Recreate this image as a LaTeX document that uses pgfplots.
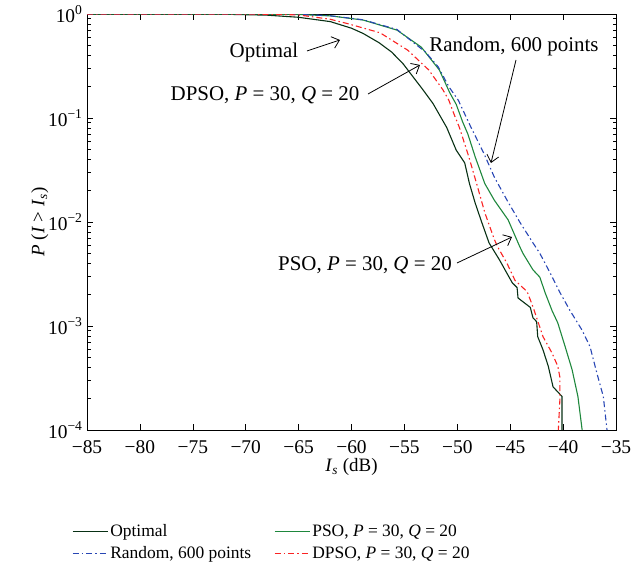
\documentclass[border=0pt]{standalone}
\usepackage{pgfplots}
\pgfplotsset{compat=1.18}
\usepackage{fontspec}
\setmainfont{Liberation Serif}
\usetikzlibrary{arrows.meta}
\definecolor{optc}{RGB}{8,48,20}
\definecolor{psoc}{RGB}{30,135,60}
\definecolor{dpsoc}{RGB}{250,35,35}
\definecolor{randc}{RGB}{40,70,180}
\begin{document}
\begin{tikzpicture}
\path[use as bounding box] (0,0) rectangle (634bp,571bp);
\begin{axis}[
  at={(87bp,141bp)}, anchor=south west, scale only axis,
  width=529bp, height=416bp,
  xmin=-85, xmax=-35, ymin=1e-4, ymax=1, ymode=log,
  xtick={-85,-80,-75,-70,-65,-60,-55,-50,-45,-40,-35},
  xticklabels={−85,−80,−75,−70,−65,−60,−55,−50,−45,−40,−35},
  ytick={1e-4,1e-3,1e-2,1e-1,1},
  yticklabels={10\textsuperscript{−4},10\textsuperscript{−3},10\textsuperscript{−2},10\textsuperscript{−1},10\textsuperscript{0}},
  tick align=inside, major tick length=6bp, minor tick length=3.5bp,
  axis line style={line width=0.8bp},
  every tick/.style={black, line width=0.6bp},
  tick label style={font=\fontsize{19.5}{22}\selectfont},
  xticklabel style={yshift=-7bp},
  yticklabel style={xshift=-1bp},
  xlabel={\textit{I}\textsubscript{\textit{s}} (dB)},
  ylabel={\textit{P} (\textit{I} > \textit{I}\textsubscript{\textit{s}})},
  label style={font=\fontsize{19}{22}\selectfont},
  xlabel style={at={(axis description cs:0.5,-0.089)}, anchor=center},
  ylabel style={at={(axis description cs:-0.089,0.5)}, anchor=center},
  legend columns=2,
  legend cell align=left,
  legend image code/.code={\draw[#1] (0bp,0bp) -- (28bp,0bp); \path (0bp,0bp) -- (35bp,0bp);},
  legend style={draw=none, fill=none, at={(-0.034,-0.218)}, anchor=north west,
    font=\fontsize{17.5}{20}\selectfont, row sep=4bp,
    /tikz/every even column/.append style={column sep=21bp}},
]
% Optimal
\addplot[color=optc, line width=1.1bp] coordinates {
(-85,1.0) (-75,0.999) (-71,0.99) (-68,0.975) (-65,0.93) (-62,0.845) (-60,0.73)
(-58.9,0.65) (-57.4,0.53) (-56.2,0.43) (-55.1,0.33) (-54.2,0.25) (-53.3,0.19)
(-52.3,0.138) (-51.0,0.081) (-50.1,0.049) (-49.3,0.037) (-48.85,0.0234)
(-48.3,0.0151) (-47.7,0.010) (-47.0,0.0063) (-46.0,0.0043)
(-45.3,0.0032) (-44.8,0.0026) (-44.35,0.00234) (-44.26,0.00186) (-43.1,0.00151)
(-42.85,0.0012) (-42.5,0.0011) (-42.4,0.00079) (-41.9,0.00059) (-41.4,0.00041)
(-40.95,0.00026) (-40.1,0.00021) (-40.1,0.0001)
};
\addlegendentry{Optimal}
% PSO
\addplot[color=psoc, line width=1.1bp] coordinates {
(-85,1.0) (-70,0.999) (-65,0.99) (-62,0.96) (-58.9,0.875) (-55.7,0.70) (-53.4,0.48)
(-51.7,0.29) (-50.7,0.174) (-50.1,0.135) (-49.5,0.092) (-49.0,0.07) (-48.3,0.042)
(-47.4,0.0234) (-46.5,0.0162) (-45.2,0.0105) (-44.1,0.0058) (-43.8,0.005)
(-42.85,0.00347) (-42.2,0.00295) (-41.7,0.00209)
(-41.05,0.00141) (-40.5,0.00107) (-39.8,0.00063) (-39.15,0.00038) (-38.6,0.00021)
(-38.2,0.0001)
};
\addlegendentry{PSO, \textit{P} = 30, \textit{Q} = 20}
% Random
\addplot[color=randc, line width=1.1bp, dash pattern=on 6bp off 3bp on 1.5bp off 3bp] coordinates {
(-85,1.0) (-70,0.999) (-65,0.99) (-62,0.962) (-58.9,0.88) (-55.7,0.71) (-53.0,0.43)
(-51.8,0.31) (-50.8,0.2) (-49.9,0.148) (-48.7,0.081) (-47.5,0.046) (-46.5,0.027)
(-45.3,0.0162) (-44.1,0.010) (-42.85,0.0063) (-42.2,0.005) (-41.2,0.0032) (-40.3,0.0021)
(-39.35,0.00141) (-38.2,0.00091) (-37.45,0.00063) (-36.8,0.00035) (-36.2,0.00021)
(-35.85,0.0001)
};
\addlegendentry{Random, 600 points}
% DPSO
\addplot[color=dpsoc, line width=1.1bp, dash pattern=on 6bp off 3bp on 1.5bp off 3bp] coordinates {
(-85,1.0) (-72,0.999) (-68,0.995) (-65,0.98) (-62,0.89) (-60.4,0.81) (-57.3,0.66)
(-54.7,0.45) (-52.7,0.29) (-51.35,0.186) (-50.8,0.148) (-50.25,0.105) (-49.8,0.081)
(-48.9,0.042) (-48.1,0.022) (-47.4,0.0123) (-46.5,0.0068) (-46.2,0.0058)
(-45.3,0.0040) (-44.55,0.00275) (-43.4,0.00214) (-42.9,0.00158) (-42.5,0.0012)
(-41.9,0.00079) (-41.05,0.00055) (-40.5,0.00041) (-40.3,0.00032) (-40.3,0.0002)
(-40.45,0.0001)
};
\addlegendentry{DPSO, \textit{P} = 30, \textit{Q} = 20}
\end{axis}
\begin{scope}[shift={(0bp,571bp)}, x=1bp, y=-1bp, font=\fontsize{21}{24}\selectfont]
\node at (264,52) {Optimal};
\draw[-{Straight Barb[length=7bp,width=12bp]}, line width=0.8bp] (307,51) -- (340,40);
\node at (265,95) {DPSO, \textit{P} = 30, \textit{Q} = 20};
\draw[-{Straight Barb[length=7bp,width=12bp]}, line width=0.8bp] (368,94) -- (420,65);
\node at (514,46) {Random, 600 points};
\draw[-{Straight Barb[length=7bp,width=12bp]}, line width=0.8bp] (516,60) -- (491,163);
\node at (365,265) {PSO, \textit{P} = 30, \textit{Q} = 20};
\draw[-{Straight Barb[length=7bp,width=12bp]}, line width=0.8bp] (457,263) -- (512,237);
\end{scope}
\end{tikzpicture}
\end{document}
